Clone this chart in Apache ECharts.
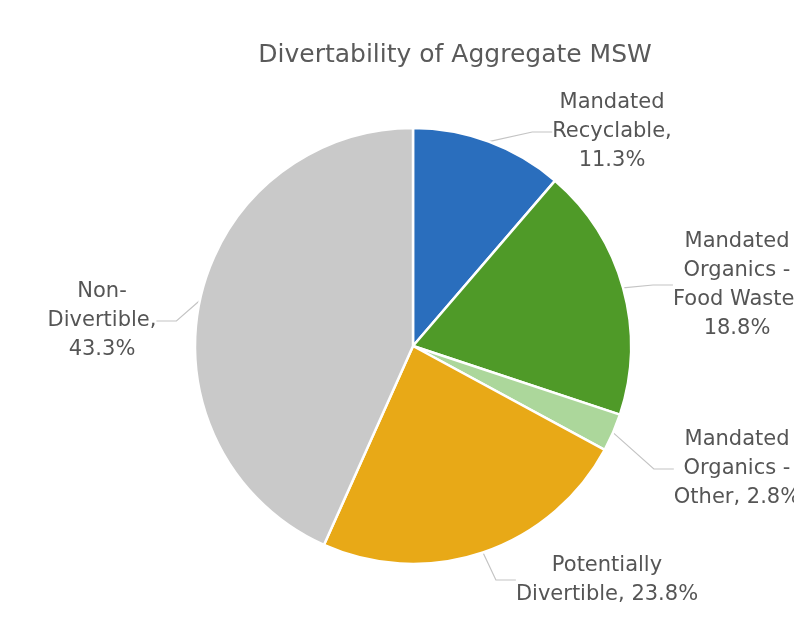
<!DOCTYPE html>
<html><head><meta charset="utf-8">
<script src="https://cdn.jsdelivr.net/npm/echarts@6/dist/echarts.min.js"></script>
<style>html,body{margin:0;padding:0;background:#fff}#c{width:794px;height:620px}</style>
</head><body><div id="c"></div>
<script>
const categories = ["Mandated Recyclable", "Mandated Organics - Food Waste", "Mandated Organics - Other", "Potentially Divertible", "Non-Divertible"];
const values = [11.3, 18.8, 2.8, 23.8, 43.3];
const labelTexts = ["Mandated\nRecyclable,\n11.3%", "Mandated\nOrganics -\nFood Waste,\n18.8%", "Mandated\nOrganics -\nOther, 2.8%", "Potentially\nDivertible, 23.8%", "Non-\nDivertible,\n43.3%"];
const colors = ["#2a6ebd", "#4f9a28", "#acd79b", "#e8a917", "#c9c9c9"];
const labelPos = [[612, 132], [737, 285], [737, 469], [607, 580], [102, 321]];

const chart = echarts.init(document.getElementById('c'));
chart.setOption({
  animation: false,
  title: {
    text: 'Divertability of Aggregate MSW',
    left: 450, top: 38, textAlign: 'center',
    textStyle: { fontFamily: 'DejaVu Sans', fontSize: 25, fontWeight: 'normal', color: '#5a5a5a' }
  },
  series: [{
    type: 'pie',
    center: [413, 346],
    radius: [0, 218],
    startAngle: 90,
    clockwise: true,
    data: categories.map((c, i) => ({ name: c, value: values[i], itemStyle: { color: colors[i] } })),
    itemStyle: { borderColor: '#fff', borderWidth: 2.5 },
    label: {
      formatter: p => labelTexts[p.dataIndex],
      fontFamily: 'DejaVu Sans', fontSize: 21, lineHeight: 29,
      color: '#555555', align: 'center', overflow: 'none'
    },
    labelLine: { show: true, length: 20, length2: 20, lineStyle: { color: '#c4c4c4', width: 1.2 } },
    labelLayout: p => ({ x: labelPos[p.dataIndex][0], y: labelPos[p.dataIndex][1], align: 'center', verticalAlign: 'middle' })
  }]
});
</script></body></html>
